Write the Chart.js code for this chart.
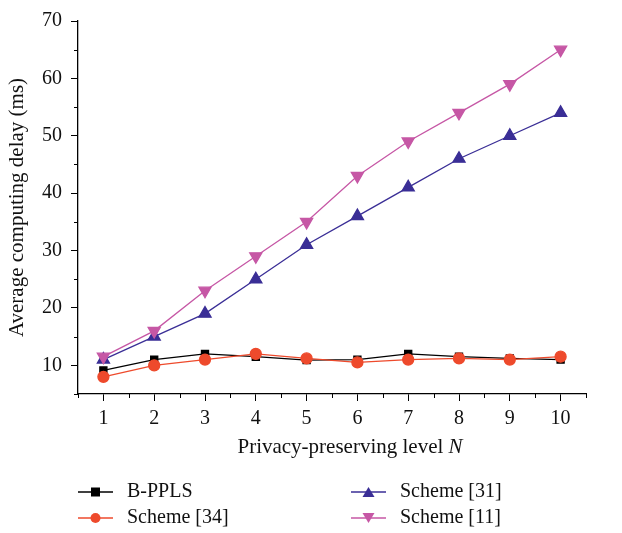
<!DOCTYPE html>
<html>
<head>
<meta charset="utf-8">
<script src="https://cdn.jsdelivr.net/npm/chart.js@4/dist/chart.umd.min.js"></script>
<style>
html,body{margin:0;padding:0;background:#fff;}
#wrap{width:622px;height:533px;position:relative;}
</style>
</head>
<body>
<div id="wrap"><canvas id="c" width="622" height="533"></canvas></div>
<script>
const levels = [1, 2, 3, 4, 5, 6, 7, 8, 9, 10];
const bppls = [9.1, 11, 12, 11.5, 10.9, 11, 12, 11.5, 11.2, 11];
const scheme34 = [8, 10, 11, 12, 11.2, 10.5, 11, 11.2, 11, 11.5];
const scheme31 = [11, 15, 19, 25, 31, 36, 41, 46, 50, 54];
const scheme11 = [11.5, 16, 23, 29, 35, 43, 49, 54, 59, 65];
const yTicks = [10, 20, 30, 40, 50, 60, 70];
const xTicks = levels;
const seriesNames = ['B-PPLS', 'Scheme [34]', 'Scheme [31]', 'Scheme [11]'];

const SERIF = '"Liberation Serif", "DejaVu Serif", serif';
const toPts = arr => arr.map((v, i) => ({x: levels[i], y: v}));

const minorTicks = {
  id: 'minorTicks',
  afterDraw(chart) {
    const ctx = chart.ctx;
    const xs = chart.scales.x, ys = chart.scales.y;
    ctx.save();
    ctx.strokeStyle = '#000';
    ctx.lineWidth = 1;
    for (let v = 5; v <= 70; v += 5) {
      if (v % 10 === 0) continue;
      const p = Math.round(ys.getPixelForValue(v)) + 0.5;
      ctx.beginPath(); ctx.moveTo(xs.left - 4, p); ctx.lineTo(xs.left, p); ctx.stroke();
    }
    for (let v = 0.5; v <= 10.5; v += 1) {
      const p = Math.round(xs.getPixelForValue(v)) + 0.5;
      ctx.beginPath(); ctx.moveTo(p, ys.bottom); ctx.lineTo(p, ys.bottom + 4); ctx.stroke();
    }
    // x title with italic N
    ctx.fillStyle = '#111';
    ctx.textBaseline = 'middle';
    const t1 = 'Privacy-preserving level ';
    ctx.font = 'italic 21px ' + SERIF;
    const wN = ctx.measureText('N').width;
    ctx.font = '21px ' + SERIF;
    const w1 = ctx.measureText(t1).width;
    const cx = (xs.left + xs.right) / 2 + 18;
    const sx = cx - (w1 + wN) / 2;
    const ty = ys.bottom + 53;
    ctx.textAlign = 'left';
    ctx.fillText(t1, sx, ty);
    ctx.font = 'italic 21px ' + SERIF;
    ctx.fillText('N', sx + w1, ty);
    // legend
    const pos = [[78, 492], [78, 518], [351, 492], [351, 518]];
    chart.data.datasets.forEach((ds, i) => {
      const [lx, ly] = pos[i];
      ctx.strokeStyle = ds.borderColor;
      ctx.lineWidth = 1.5;
      ctx.beginPath(); ctx.moveTo(lx, ly); ctx.lineTo(lx + 35, ly); ctx.stroke();
      ctx.fillStyle = ds.backgroundColor;
      const mx = lx + 17.5;
      ctx.beginPath();
      if (ds.pointStyle === 'rect') {
        ctx.rect(mx - 4.5, ly - 4.5, 9, 9);
      } else if (ds.pointStyle === 'circle') {
        ctx.arc(mx, ly, 5, 0, Math.PI * 2);
      } else if (ds.pointRotation === 180) {
        ctx.moveTo(mx - 6, ly - 5); ctx.lineTo(mx + 6, ly - 5); ctx.lineTo(mx, ly + 5); ctx.closePath();
      } else {
        ctx.moveTo(mx - 6, ly + 5); ctx.lineTo(mx + 6, ly + 5); ctx.lineTo(mx, ly - 5); ctx.closePath();
      }
      ctx.fill();
      ctx.fillStyle = '#111';
      ctx.font = '20px ' + SERIF;
      ctx.textAlign = 'left';
      ctx.fillText(seriesNames[i], lx + 49, ly);
    });
    ctx.restore();
  }
};

new Chart(document.getElementById('c'), {
  type: 'line',
  data: {
    datasets: [
      {label: seriesNames[0], data: toPts(bppls), borderColor: '#000', backgroundColor: '#000', pointStyle: 'rect', pointRadius: 5, borderWidth: 1.3, order: 4},
      {label: seriesNames[1], data: toPts(scheme34), borderColor: '#ee4a2c', backgroundColor: '#ee4a2c', pointStyle: 'circle', pointRadius: 5.5, borderWidth: 1.3, order: 3},
      {label: seriesNames[2], data: toPts(scheme31), borderColor: '#3a2e96', backgroundColor: '#3a2e96', pointStyle: 'triangle', pointRadius: 7, borderWidth: 1.3, order: 2},
      {label: seriesNames[3], data: toPts(scheme11), borderColor: '#c657a5', backgroundColor: '#c657a5', pointStyle: 'triangle', pointRotation: 180, pointRadius: 7, borderWidth: 1.3, order: 1}
    ]
  },
  options: {
    responsive: false,
    animation: false,
    devicePixelRatio: 1,
    layout: {padding: {left: 0, right: 36, top: 18, bottom: 109}},
    plugins: {legend: {display: false}, tooltip: {enabled: false}},
    elements: {line: {tension: 0}, point: {borderWidth: 0}},
    scales: {
      x: {
        type: 'linear', min: 0.5, max: 10.5,
        afterBuildTicks: s => { s.ticks = xTicks.map(v => ({value: v})); },
        afterFit: s => { s.height = 30; },
        grid: {drawOnChartArea: false, drawTicks: true, tickLength: 7, tickColor: '#000'},
        border: {display: true, color: '#000', width: 1.3},
        ticks: {color: '#111', font: {family: SERIF, size: 20}, padding: 6, maxRotation: 0}
      },
      y: {
        type: 'linear', min: 5, max: 70,
        afterBuildTicks: s => { s.ticks = yTicks.map(v => ({value: v})); },
        afterFit: s => { s.width = 78; },
        grid: {drawOnChartArea: false, drawTicks: true, tickLength: 7, tickColor: '#000'},
        border: {display: true, color: '#000', width: 1.3},
        ticks: {color: '#111', font: {family: SERIF, size: 20}, padding: 9},
        title: {display: true, text: 'Average computing delay (ms)', color: '#111', font: {family: SERIF, size: 21}, padding: {top: 5, bottom: 4}}
      }
    }
  },
  plugins: [minorTicks]
});
</script>
</body>
</html>
